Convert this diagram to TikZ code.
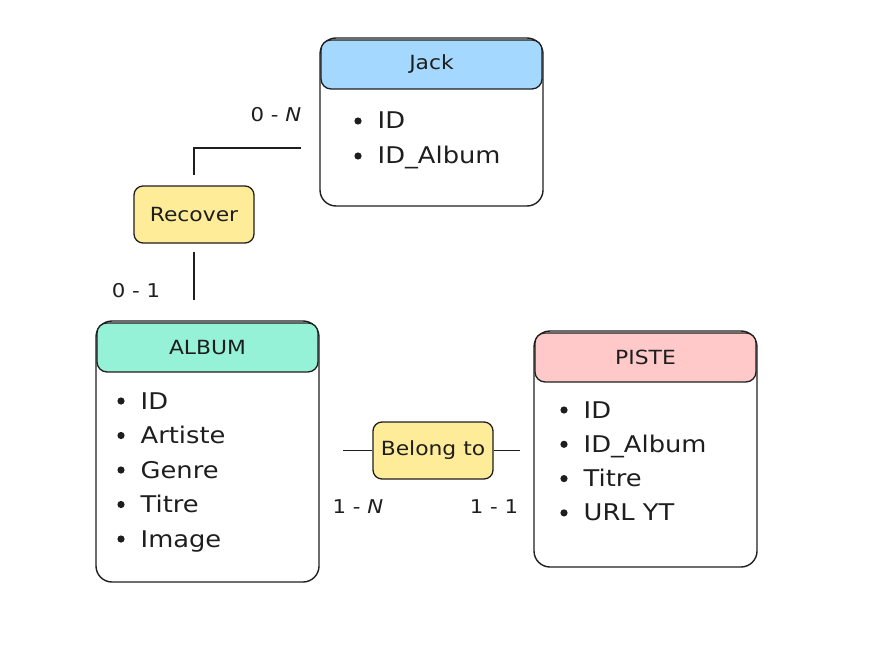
\documentclass[tikz,border=0pt]{standalone}
\usepackage{fontspec}
\setmainfont{DejaVu Sans}[FakeStretch=1.12]
\definecolor{ink}{HTML}{1E1E1E}
\definecolor{jackblue}{HTML}{A5D8FF}
\definecolor{albumgreen}{HTML}{96F2D7}
\definecolor{pistered}{HTML}{FFC9C9}
\definecolor{relyellow}{HTML}{FFEC99}
\begin{document}
\begin{tikzpicture}[x=1pt, y=-1pt, line width=1.3pt, color=ink]
% define node styles
\tikzstyle{table}    = [draw, rounded corners=16pt, minimum width=223pt, line width=1.4pt]
\tikzstyle{head}     = [draw, rounded corners=10pt, minimum width=221pt, minimum height=49pt,
                        inner sep=0pt, font=\fontsize{19.5}{22}\selectfont]
\tikzstyle{relation} = [draw, fill=relyellow, rounded corners=9pt, minimum width=120pt,
                        minimum height=57pt, inner sep=0pt, font=\fontsize{19.5}{22}\selectfont]
\tikzstyle{attr}     = [anchor=west, inner sep=0pt, text height=17pt, text depth=1pt,
                        font=\fontsize{23}{27}\selectfont]
\tikzstyle{card}     = [inner sep=0pt, font=\fontsize{19}{22}\selectfont]
\tikzstyle{link}     = [draw, line width=1.3pt]

\useasboundingbox (0,0) rectangle (885,655);

% entity tables
\node [table, minimum height=168pt] (jack)  at (431.5,122) {};
\node [table, minimum height=261pt] (album) at (207.5,451.5) {};
\node [table, minimum height=236pt] (piste) at (645.5,449) {};

\node [head, fill=jackblue,   anchor=north] (jackhead)  at ([yshift=-2pt]jack.north)  {Jack};
\node [head, fill=albumgreen, anchor=north] (albumhead) at ([yshift=-2pt]album.north) {ALBUM};
\node [head, fill=pistered,   anchor=north] (pistehead) at ([yshift=-2pt]piste.north) {PISTE};

% attributes
\foreach \t [count=\i] in {ID, ID\_Album}
    \node [attr] (jack\i) at (377,{121+35*(\i-1)}) {\t};
\foreach \t [count=\i] in {ID, Artiste, Genre, Titre, Image}
    \node [attr] (album\i) at (140,{401+34.5*(\i-1)}) {\t};
\foreach \t [count=\i] in {ID, ID\_Album, Titre, URL YT}
    \node [attr] (piste\i) at (583,{410+34.3*(\i-1)}) {\t};

% bullets
\foreach \n/\k in {jack/2, album/5, piste/4}
    \foreach \i in {1,...,\k}
        \fill ([xshift=-19pt]\n\i.west) circle (3.6pt);

% relations
\node [relation] (recover) at (194,214.5) {Recover};
\node [relation] (belong)  at (433,450.5) {Belong to};

% edges
\draw [link, shorten <=18pt, shorten >=10pt] (jack.west |- 0,148) -| (recover.north);
\draw [link, shorten <=8pt, shorten >=20pt] (recover.south) -- (recover.south |- album.north);
\draw [link, shorten >=23pt] (belong.west) -- (belong.west -| album.east);
\draw [link, shorten >=13pt] (belong.east) -- (belong.east -| piste.west);

% cardinalities
\node [card] (cjack)   at (276,115) {0 - \textit{N}};
\node [card] (calbum)  at (136,291) {0 - 1};
\node [card] (cbelong) at (358,507) {1 - \textit{N}};
\node [card] (cpiste)  at (494,507) {1 - 1};

\end{tikzpicture}
\end{document}
